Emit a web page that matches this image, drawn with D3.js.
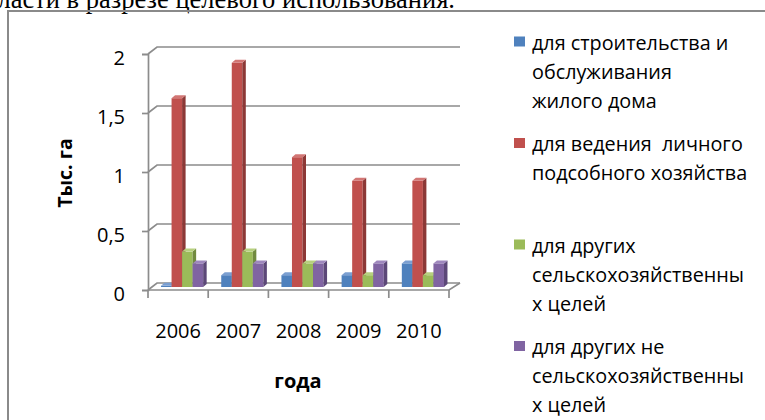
<!DOCTYPE html>
<html>
<head>
<meta charset="utf-8">
<script src="https://cdn.jsdelivr.net/npm/d3@7"></script>
<style>
  html, body { margin: 0; padding: 0; background: #fff; overflow: hidden; }
  text { font-family: "Open Sans", sans-serif; fill: #000; }
</style>
</head>
<body>
<div id="chart"></div>
<script>
// data
var years = ['2006', '2007', '2008', '2009', '2010'];
var seriesNames = [
  ['для строительства и', 'обслуживания', 'жилого дома'],
  ['для ведения  личного', 'подсобного хозяйства'],
  ['для других', 'сельскохозяйственны', 'х целей'],
  ['для других не', 'сельскохозяйственны', 'х целей']
];
var housing = [0.01, 0.1, 0.1, 0.1, 0.2];
var personal = [1.6, 1.9, 1.1, 0.9, 0.9];
var agri = [0.3, 0.3, 0.2, 0.1, 0.1];
var nonAgri = [0.2, 0.2, 0.2, 0.2, 0.2];
var yTicks = [0, 0.5, 1, 1.5, 2];
var yTickLabels = ['0', '0,5', '1', '1,5', '2'];

var series = [housing, personal, agri, nonAgri];
var colors = [
  { front: '#4f81bd', side: '#385d8a', top: '#7b9fd1' },
  { front: '#c0504d', side: '#8c3836', top: '#d27674' },
  { front: '#9bbb59', side: '#718a3f', top: '#b7d07f' },
  { front: '#8064a2', side: '#5c4878', top: '#9e87bd' }
];

var W = 765, H = 420;
var DX = 9, DY = -7;      // depth of the back wall
var BD = 3.5, BDY = -3;   // depth of a bar

var svg = d3.select('#chart').append('svg')
  .attr('width', W)
  .attr('height', H);

// cut-off caption above the chart
svg.append('text')
  .attr('x', 455)
  .attr('y', 7.5)
  .attr('text-anchor', 'end')
  .style('font-family', '"Liberation Serif", "Times New Roman", serif')
  .style('font-size', '26.5px')
  .text('ласти в разрезе целевого использования.');

// chart frame
svg.append('path')
  .attr('d', 'M8,' + (H + 10) + 'V11H' + (W + 10))
  .attr('fill', 'none')
  .attr('stroke', '#8a8a8a')
  .attr('stroke-width', 2);

var y = d3.scaleLinear().domain([0, 2]).range([290, 54]);
var x0 = d3.scaleBand().domain(years).range([148, 449])
  .paddingInner(0.3).paddingOuter(0.15);
var x1 = d3.scaleBand().domain(d3.range(series.length))
  .range([0, x0.bandwidth()]);

var grid = '#8c8c8c';

// back wall gridlines with diagonal on the side wall
svg.append('g').selectAll('path')
  .data(yTicks)
  .enter()
  .append('path')
  .attr('d', function (d) {
    return 'M148,' + y(d) + 'L' + (148 + DX) + ',' + (y(d) + DY) + 'H460';
  })
  .attr('fill', 'none')
  .attr('stroke', grid)
  .attr('stroke-width', 1.7);

// floor
svg.append('path')
  .attr('d', 'M148,' + y(0) + 'H449L' + (449 + DX + 2) + ',' + (y(0) + DY))
  .attr('fill', 'none')
  .attr('stroke', grid)
  .attr('stroke-width', 1.7);

// y axis
var yAxis = d3.axisLeft(y)
  .tickValues(yTicks)
  .tickSize(6)
  .tickFormat(function (d, i) { return yTickLabels[i]; });

var yg = svg.append('g')
  .attr('transform', 'translate(148,0)')
  .call(yAxis);
yg.select('.domain').attr('stroke', grid).attr('stroke-width', 1.7);
yg.selectAll('.tick line').attr('stroke', grid).attr('stroke-width', 1.7);
yg.selectAll('.tick text')
  .attr('x', -23)
  .attr('dy', '0.5em')
  .style('font-family', '"Open Sans", sans-serif')
  .style('font-size', '20px')
  .attr('fill', '#000');

// x axis ticks at category borders
var xEdges = d3.range(years.length + 1).map(function (i) {
  return 148 + i * x0.step();
});
svg.append('g').selectAll('line')
  .data(xEdges)
  .enter()
  .append('line')
  .attr('x1', function (d) { return d; })
  .attr('x2', function (d) { return d; })
  .attr('y1', y(0))
  .attr('y2', y(0) + 8)
  .attr('stroke', grid)
  .attr('stroke-width', 1.7);

svg.append('g').selectAll('text')
  .data(years)
  .enter()
  .append('text')
  .attr('x', function (d) { return x0(d) + x0.bandwidth() / 2; })
  .attr('y', 338)
  .attr('text-anchor', 'middle')
  .style('font-size', '20px')
  .text(function (d) { return d; });

// bars
var bars = [];
years.forEach(function (yr, i) {
  series.forEach(function (s, k) {
    bars.push({ year: yr, k: k, v: s[i] });
  });
});

var bx = 4, by = -3;
var bw = x1.bandwidth();
var bg = svg.append('g')
  .selectAll('g')
  .data(bars)
  .enter()
  .append('g');

function barLeft(d) { return x0(d.year) + x1(d.k) + bx; }
function barTop(d) { return y(d.v) + by; }
var base = y(0) + by;

bg.append('rect')
  .attr('x', barLeft)
  .attr('y', barTop)
  .attr('width', bw)
  .attr('height', function (d) { return base - barTop(d); })
  .attr('fill', function (d) { return colors[d.k].front; });

bg.append('path')
  .attr('d', function (d) {
    var r = barLeft(d) + bw, t = barTop(d);
    return 'M' + r + ',' + t + 'L' + (r + BD) + ',' + (t + BDY) +
      'L' + (r + BD) + ',' + (base + BDY) + 'L' + r + ',' + base + 'Z';
  })
  .attr('fill', function (d) { return colors[d.k].side; });

bg.append('path')
  .attr('d', function (d) {
    var l = barLeft(d), t = barTop(d);
    return 'M' + l + ',' + t + 'L' + (l + bw) + ',' + t +
      'L' + (l + bw + BD) + ',' + (t + BDY) + 'L' + (l + BD) + ',' + (t + BDY) + 'Z';
  })
  .attr('fill', function (d) { return colors[d.k].top; });

// axis titles
svg.append('text')
  .attr('transform', 'translate(72,173) rotate(-90)')
  .attr('text-anchor', 'middle')
  .style('font-size', '19.5px')
  .style('font-weight', 'bold')
  .text('Тыс. га');

svg.append('text')
  .attr('x', 298)
  .attr('y', 388)
  .attr('text-anchor', 'middle')
  .style('font-size', '20px')
  .style('font-weight', 'bold')
  .text('года');

// legend: one equal slot per entry
var legendY = [49.5, 151, 252.5, 354];
var lineH = 29;
var lg = svg.append('g').selectAll('g')
  .data(seriesNames)
  .enter()
  .append('g')
  .attr('transform', function (d, i) { return 'translate(0,' + legendY[i] + ')'; });

lg.append('rect')
  .attr('x', 514)
  .attr('y', -13)
  .attr('width', 11)
  .attr('height', 10)
  .attr('fill', function (d, i) { return colors[i].front; });

lg.append('text')
  .attr('x', 532)
  .attr('y', 0)
  .style('font-size', '19.8px')
  .style('white-space', 'pre')
  .selectAll('tspan')
  .data(function (d) { return d; })
  .enter()
  .append('tspan')
  .attr('x', 532)
  .attr('dy', function (d, i) { return i === 0 ? 0 : lineH; })
  .text(function (d) { return d; });
</script>
</body>
</html>
